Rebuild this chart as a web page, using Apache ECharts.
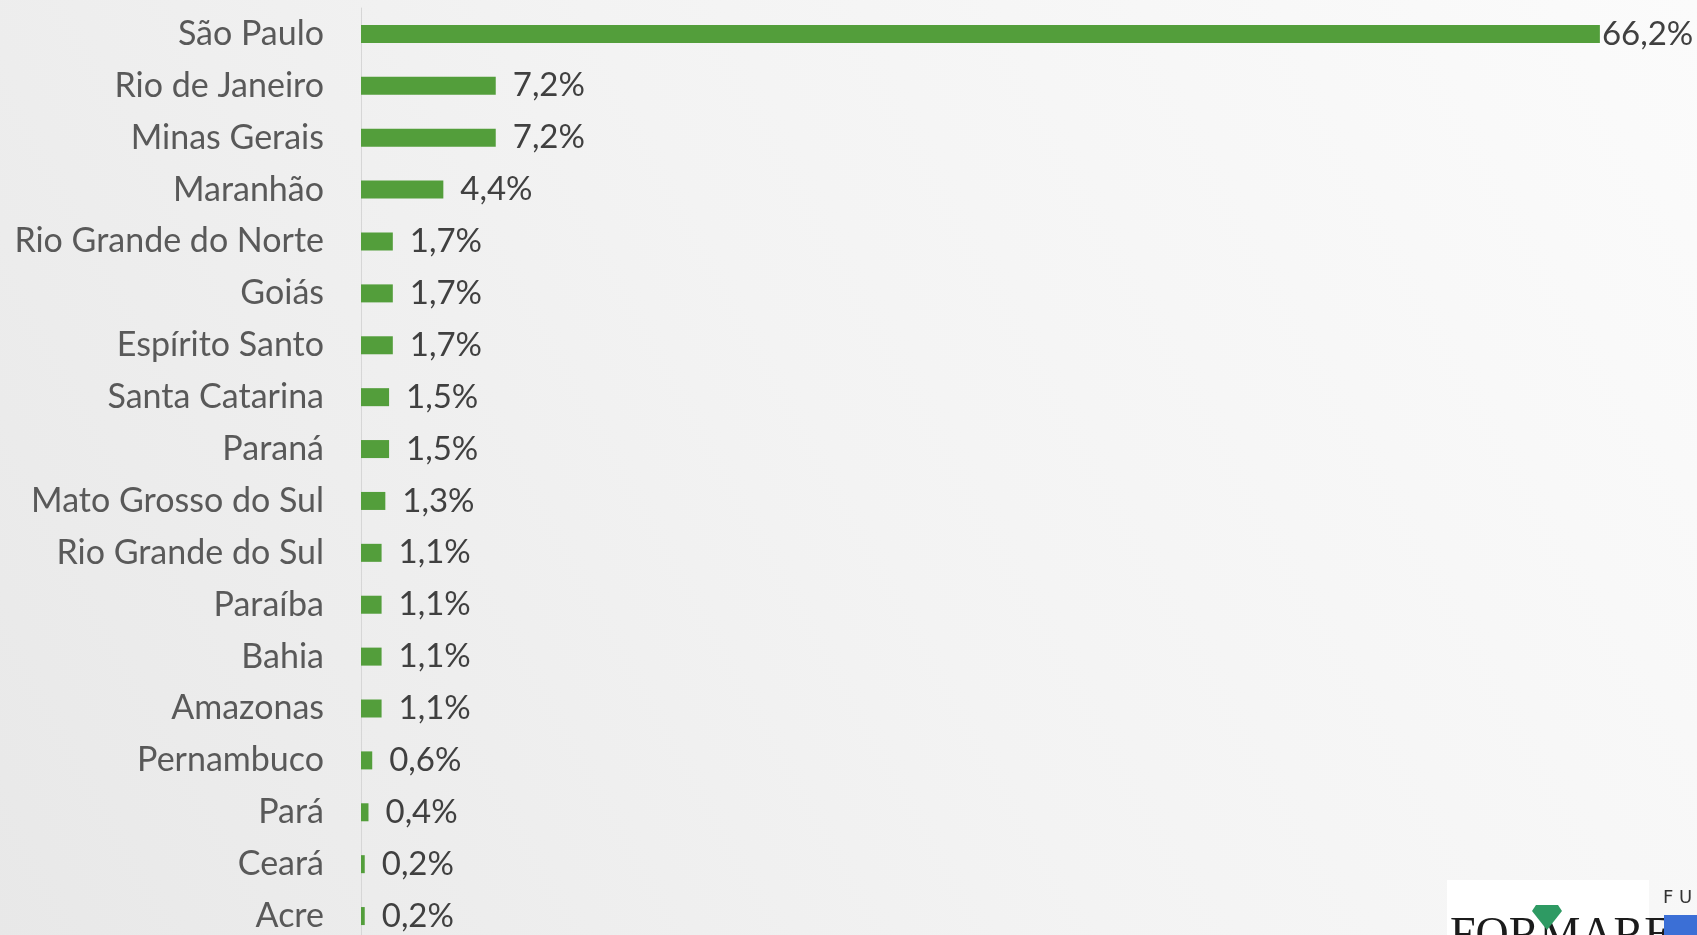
<!DOCTYPE html>
<html>
<head>
<meta charset="utf-8">
<script src="https://cdn.jsdelivr.net/npm/echarts@6/dist/echarts.min.js"></script>
<style>
html,body{margin:0;padding:0;width:1697px;height:935px;overflow:hidden;}
#c{width:1697px;height:950px;}
</style>
</head>
<body>
<div id="c"></div>
<script>
const categories = ['São Paulo','Rio de Janeiro','Minas Gerais','Maranhão','Rio Grande do Norte','Goiás','Espírito Santo','Santa Catarina','Paraná','Mato Grosso do Sul','Rio Grande do Sul','Paraíba','Bahia','Amazonas','Pernambuco','Pará','Ceará','Acre'];
const values = [66.2,7.2,7.2,4.4,1.7,1.7,1.7,1.5,1.5,1.3,1.1,1.1,1.1,1.1,0.6,0.4,0.2,0.2];

const chart = echarts.init(document.getElementById('c'), null, {renderer:'canvas'});
const FONT = 'Lato';
const seriesData = values.map((v, i) => i === 0 ? {value: v, label: {distance: 2}} : v);

chart.setOption({
  backgroundColor: {
    type: 'linear', x: 1, y: 0, x2: 0, y2: 1,
    colorStops: [{offset: 0, color: '#fbfbfb'}, {offset: 0.5, color: '#f3f3f3'}, {offset: 1, color: '#e8e8e8'}]
  },
  animation: false,
  grid: {left: 361, top: 8, width: 1310, height: 934, containLabel: false},
  xAxis: {
    type: 'value', min: 0, max: 70, show: false
  },
  yAxis: {
    type: 'category', data: categories, inverse: true,
    axisLine: {show: true, lineStyle: {color: '#d6d6d6', width: 1}},
    axisTick: {show: false},
    axisLabel: {color: '#595959', fontFamily: FONT, fontSize: 34, margin: 37}
  },
  series: [{
    type: 'bar', data: seriesData, barWidth: 18,
    itemStyle: {color: '#539E3B'},
    label: {
      show: true, position: 'right', distance: 17,
      color: '#404040', fontFamily: FONT, fontSize: 33,
      formatter: p => p.value.toFixed(1).replace('.', ',') + '%'
    }
  }],
  graphic: [
    {type: 'rect', shape: {x: 1447, y: 880, width: 202, height: 70}, style: {fill: '#ffffff'}, silent: true},
    {type: 'text', x: 1450, y: 914, style: {text: 'FORMARE', font: '46px "Liberation Serif"', fill: '#1b1b1b'}, silent: true},
    {type: 'polygon', shape: {points: [[1536,905],[1558,905],[1562,911],[1547,930],[1532,911]]}, style: {fill: '#2e9a63'}, silent: true},
    {type: 'text', x: 1663, y: 889, style: {text: 'F U', font: '18px "DejaVu Sans"', fill: '#333333'}, silent: true},
    {type: 'rect', shape: {x: 1664, y: 915, width: 40, height: 30}, style: {fill: '#3b6fd6'}, silent: true}
  ]
});
</script>
</body>
</html>
